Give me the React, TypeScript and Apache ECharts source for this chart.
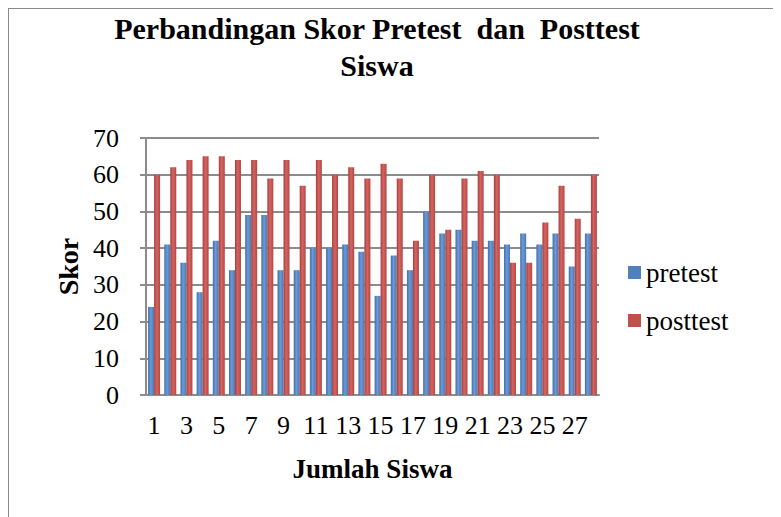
import React, { useEffect, useRef } from "react";
import * as echarts from "echarts";

const categories = Array.from({ length: 28 }, (_, i) => String(i + 1));
const pretest = [24, 41, 36, 28, 42, 34, 49, 49, 34, 34, 40, 40, 41, 39, 27, 38, 34, 50, 44, 45, 42, 42, 41, 44, 41, 44, 35, 44];
const posttest = [60, 62, 64, 65, 65, 64, 64, 59, 64, 57, 64, 60, 62, 59, 63, 59, 42, 60, 45, 59, 61, 60, 36, 36, 47, 57, 48, 60];
const seriesNames = ["pretest", "posttest"];

const FONT = '"Liberation Serif", "Times New Roman", serif';

export default function App() {
  const ref = useRef<HTMLDivElement>(null);
  useEffect(() => {
    if (!ref.current) return;
    const chart = echarts.init(ref.current, undefined, { renderer: "svg" });
    const grad = (a: string, b: string, c: string) =>
      new echarts.graphic.LinearGradient(0, 0, 1, 0, [
        { offset: 0, color: a },
        { offset: 0.45, color: b },
        { offset: 1, color: c },
      ]);
    chart.setOption({
      animation: false,
      backgroundColor: "#ffffff",
      title: {
        text: "Perbandingan Skor Pretest  dan  Posttest\nSiswa",
        left: 368,
        top: 1,
        padding: 0,
        textAlign: "center",
        textStyle: {
          fontFamily: FONT,
          fontSize: 30,
          fontWeight: "bold",
          color: "#000",
          lineHeight: 37,
        },
      },
      legend: {
        orient: "vertical",
        left: 619,
        top: 250,
        padding: 0,
        itemWidth: 13,
        itemHeight: 13,
        itemGap: 21,
        icon: "rect",
        textStyle: { fontFamily: FONT, fontSize: 27, color: "#000" },
        data: [
          { name: seriesNames[0], itemStyle: { color: "#4f81bd" } },
          { name: seriesNames[1], itemStyle: { color: "#c0504d" } },
        ],
      },
      grid: { left: 137, top: 129, right: 181, bottom: 121 },
      xAxis: {
        type: "category",
        data: categories,
        name: "Jumlah Siswa",
        nameLocation: "middle",
        nameGap: 60,
        nameTextStyle: { fontFamily: FONT, fontSize: 27, fontWeight: "bold", color: "#000" },
        axisLine: { lineStyle: { color: "#8c8c8c", width: 2 } },
        axisTick: { show: false },
        axisLabel: {
          interval: 1,
          margin: 17,
          fontFamily: FONT,
          fontSize: 26,
          color: "#000",
        },
      },
      yAxis: {
        type: "value",
        min: 0,
        max: 70,
        interval: 10,
        name: "Skor",
        nameLocation: "middle",
        nameGap: 62,
        nameTextStyle: { fontFamily: FONT, fontSize: 28, fontWeight: "bold", color: "#000" },
        axisLine: { show: true, lineStyle: { color: "#8c8c8c", width: 2 } },
        axisTick: { show: true, length: 6, lineStyle: { color: "#8c8c8c", width: 2 } },
        axisLabel: { margin: 27, fontFamily: FONT, fontSize: 26, color: "#000" },
        splitLine: { lineStyle: { color: "#8c8c8c", width: 2 } },
      },
      series: [
        {
          name: seriesNames[0],
          type: "bar",
          data: pretest,
          barWidth: 6,
          barGap: "0%",
          itemStyle: { color: grad("#3f6ea8", "#6b9ad6", "#4a78b5") },
        },
        {
          name: seriesNames[1],
          type: "bar",
          data: posttest,
          barWidth: 6,
          itemStyle: { color: grad("#a53f3c", "#d46561", "#b34744") },
        },
      ],
    });
    return () => chart.dispose();
  }, []);
  return (
    <div
      style={{
        width: 773,
        height: 509,
        borderLeft: "1.5px solid #8a8a8a",
        borderTop: "1.5px solid #8a8a8a",
        boxSizing: "border-box",
      }}
    >
      <div ref={ref} style={{ width: 771, height: 507 }} />
    </div>
  );
}
